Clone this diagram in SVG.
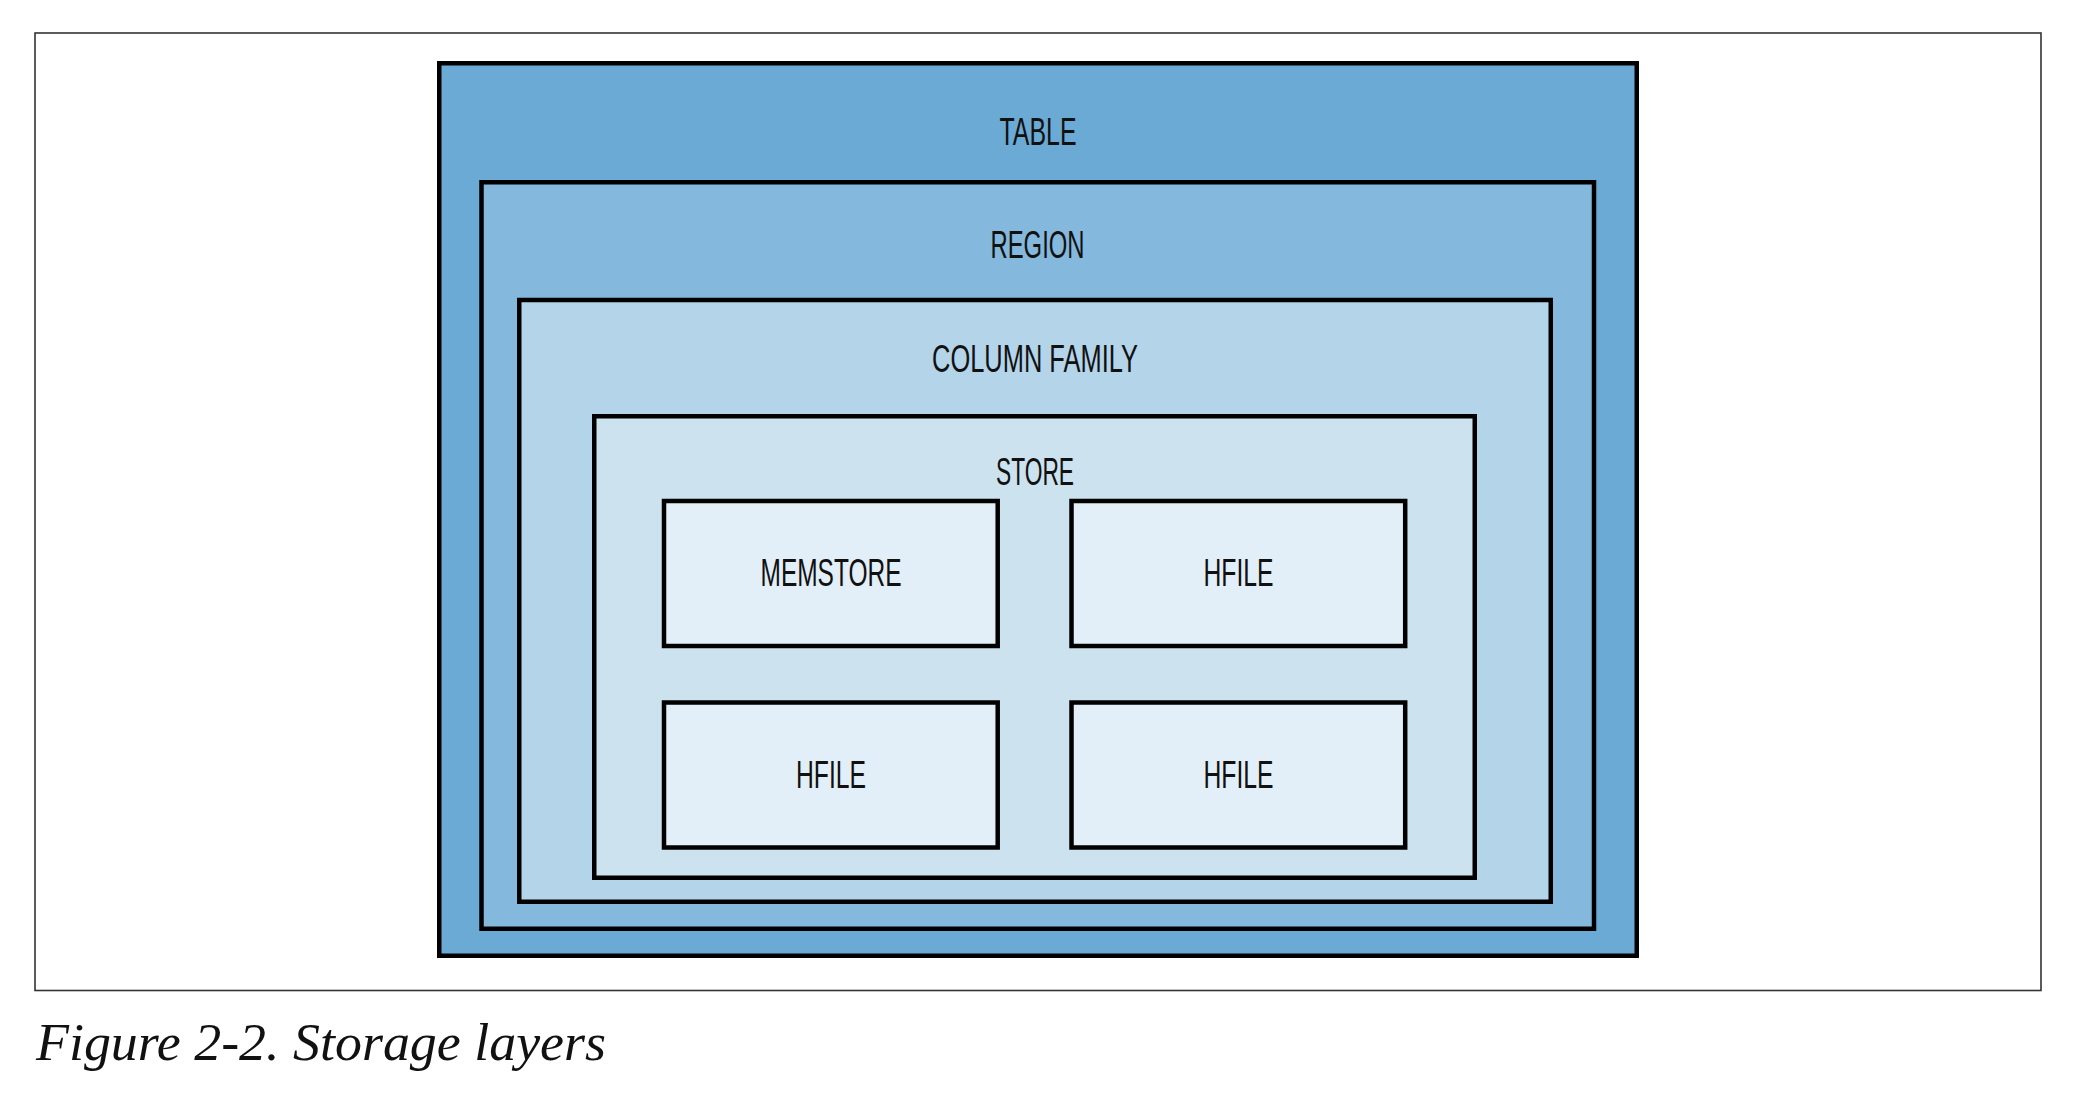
<svg xmlns="http://www.w3.org/2000/svg" width="2082" height="1104" viewBox="0 0 2082 1104">
  <style>
    .layer { stroke: #000; stroke-width: 4.5; }
    .lbl { font-family: "Liberation Sans", Arial, sans-serif; font-size: 39px; fill: #111; text-anchor: middle; }
    .cap { font-family: "Liberation Serif", "Times New Roman", serif; font-style: italic; font-size: 52px; fill: #111; }
  </style>
  <rect x="0" y="0" width="2082" height="1104" fill="#fff"/>
  <rect id="frame" x="35" y="33" width="2006" height="957.5" fill="none" stroke="#333" stroke-width="1.6"/>
  <g id="table">
    <rect class="layer" x="439.25" y="63.25" width="1197.5" height="892.5" fill="#6aaad4"/>
    <text class="lbl" x="1038" y="145" textLength="77" lengthAdjust="spacingAndGlyphs">TABLE</text>
  </g>
  <g id="region">
    <rect class="layer" x="481.5" y="182.25" width="1112.5" height="746.5" fill="#85b8dd"/>
    <text class="lbl" x="1037.5" y="258" textLength="94" lengthAdjust="spacingAndGlyphs">REGION</text>
  </g>
  <g id="column-family">
    <rect class="layer" x="519.25" y="300" width="1031.5" height="601.75" fill="#b4d4ea"/>
    <text class="lbl" x="1035" y="372" textLength="206" lengthAdjust="spacingAndGlyphs">COLUMN FAMILY</text>
  </g>
  <g id="store">
    <rect class="layer" x="594.25" y="416.25" width="880.5" height="461.5" fill="#cde2ef"/>
    <text class="lbl" x="1035" y="485" textLength="78" lengthAdjust="spacingAndGlyphs">STORE</text>
  </g>
  <g id="memstore">
    <rect class="layer" x="664" y="501" width="333.7" height="145" fill="#e2eff8"/>
    <text class="lbl" x="831" y="586" textLength="141" lengthAdjust="spacingAndGlyphs">MEMSTORE</text>
  </g>
  <g id="hfile-1">
    <rect class="layer" x="1071.5" y="501" width="333.7" height="145" fill="#e2eff8"/>
    <text class="lbl" x="1238.5" y="586" textLength="70" lengthAdjust="spacingAndGlyphs">HFILE</text>
  </g>
  <g id="hfile-2">
    <rect class="layer" x="664" y="702.5" width="333.7" height="145" fill="#e2eff8"/>
    <text class="lbl" x="831" y="788" textLength="70" lengthAdjust="spacingAndGlyphs">HFILE</text>
  </g>
  <g id="hfile-3">
    <rect class="layer" x="1071.5" y="702.5" width="333.7" height="145" fill="#e2eff8"/>
    <text class="lbl" x="1238.5" y="788" textLength="70" lengthAdjust="spacingAndGlyphs">HFILE</text>
  </g>
  <g id="connectors"></g>
  <text class="cap" x="36" y="1060" textLength="570" lengthAdjust="spacingAndGlyphs">Figure 2-2. Storage layers</text>
</svg>
